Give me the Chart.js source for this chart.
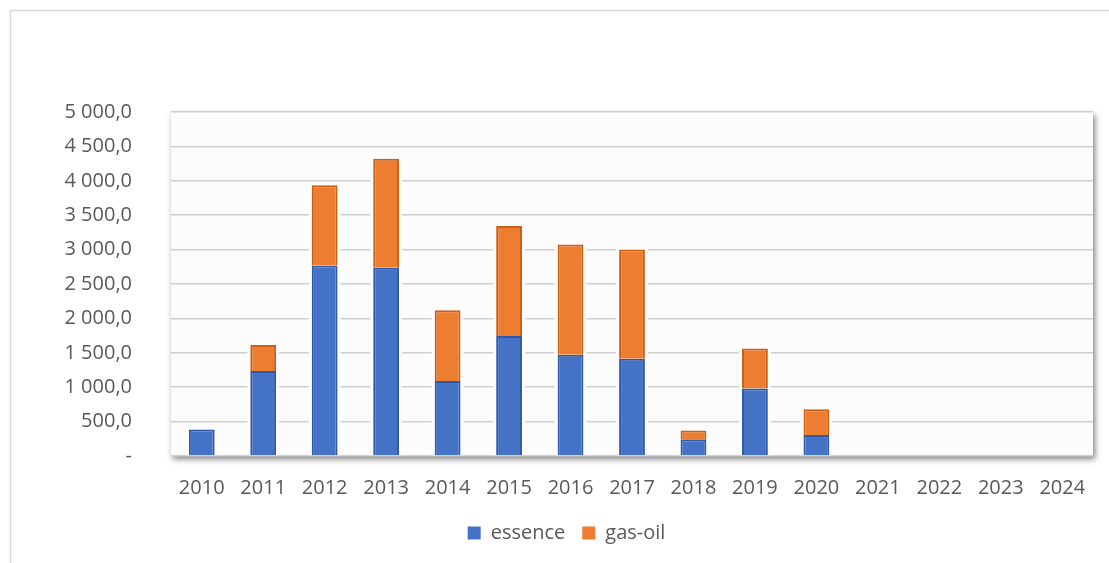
<!DOCTYPE html>
<html>
<head>
<meta charset="utf-8">
<script src="https://cdn.jsdelivr.net/npm/chart.js@4"></script>
<style>
html, body { margin: 0; padding: 0; background: #fff; }
</style>
</head>
<body>
<canvas id="ventesChart" width="1109" height="563"></canvas>
<script>
var years = ['2010', '2011', '2012', '2013', '2014', '2015', '2016', '2017', '2018', '2019', '2020', '2021', '2022', '2023', '2024'];
var essence = [385, 1235, 2770, 2735, 1090, 1745, 1470, 1415, 245, 980, 305, null, null, null, null];
var gasOil = [null, 378, 1167, 1584, 1028, 1599, 1603, 1585, 125, 582, 374, null, null, null, null];
var yTickLabels = ['-', '500,0', '1 000,0', '1 500,0', '2 000,0', '2 500,0', '3 000,0', '3 500,0', '4 000,0', '4 500,0', '5 000,0'];

var textColor = '#595959';
var font = { family: 'Open Sans', size: 20 };

// outer frame, shaded plot area and a light halo behind each bar
var plotFrame = {
    id: 'plotFrame',
    beforeDraw: function (chart) {
        var ctx = chart.ctx, a = chart.chartArea;
        ctx.save();
        ctx.fillStyle = '#fff';
        ctx.fillRect(0, 0, chart.width, chart.height);
        ctx.strokeStyle = '#d9d9d9';
        ctx.lineWidth = 1.5;
        ctx.beginPath();
        ctx.moveTo(10.5, chart.height);
        ctx.lineTo(10.5, 10.5);
        ctx.lineTo(chart.width, 10.5);
        ctx.stroke();
        ctx.shadowColor = 'rgba(0, 0, 0, 0.5)';
        ctx.shadowBlur = 6;
        ctx.shadowOffsetX = 2;
        ctx.shadowOffsetY = 3;
        ctx.fillStyle = '#fcfcfc';
        ctx.fillRect(a.left, a.top, a.right - a.left, a.bottom - a.top);
        ctx.restore();
    },
    beforeDatasetsDraw: function (chart) {
        var ctx = chart.ctx;
        ctx.save();
        ctx.fillStyle = '#fcfcfc';
        chart.data.datasets.forEach(function (ds, i) {
            chart.getDatasetMeta(i).data.forEach(function (bar) {
                var p = bar.getProps(['x', 'y', 'base', 'width'], true);
                if (p.y == null || isNaN(p.y)) return;
                var h = Math.abs(p.base - p.y);
                if (h < 0.5) return;
                ctx.fillRect(p.x - p.width / 2 - 3, Math.min(p.y, p.base) - 3, p.width + 6, h + 3);
            });
        });
        ctx.restore();
    }
};

var ventes = new Chart(document.getElementById('ventesChart'), {
    type: 'bar',
    data: {
        labels: years,
        datasets: [{
            label: 'essence',
            data: essence,
            backgroundColor: '#4472C4',
            borderColor: '#2F58A8',
            borderWidth: 2,
            categoryPercentage: 1,
            barPercentage: 0.42
        }, {
            label: 'gas-oil',
            data: gasOil,
            backgroundColor: '#ED7D31',
            borderColor: '#CC5F16',
            borderWidth: 2,
            categoryPercentage: 1,
            barPercentage: 0.42
        }]
    },
    plugins: [plotFrame],
    options: {
        responsive: false,
        animation: false,
        layout: {
            padding: { top: 112, left: 40, right: 16, bottom: 10 }
        },
        scales: {
            x: {
                stacked: true,
                grid: { display: false, drawTicks: false },
                border: { display: false },
                ticks: { color: textColor, font: font, padding: 20, maxRotation: 0 },
                afterFit: function (scale) { scale.height = 50; }
            },
            y: {
                stacked: true,
                min: 0,
                max: 5000,
                grid: { color: '#cfcfcf', lineWidth: 1.5, drawTicks: false },
                border: { display: false },
                ticks: {
                    stepSize: 500,
                    color: textColor,
                    font: font,
                    padding: 39,
                    callback: function (v) { return yTickLabels[Math.round(v / 500)]; }
                },
                afterFit: function (scale) { scale.width = 131; }
            }
        },
        plugins: {
            tooltip: { enabled: false },
            legend: {
                position: 'bottom',
                labels: {
                    color: textColor,
                    font: font,
                    boxWidth: 13,
                    boxHeight: 13,
                    padding: 17,
                    generateLabels: function (chart) {
                        return Chart.defaults.plugins.legend.labels.generateLabels(chart).map(function (l) {
                            l.lineWidth = 0;
                            l.strokeStyle = l.fillStyle;
                            return l;
                        });
                    }
                }
            }
        }
    }
});
</script>
</body>
</html>
